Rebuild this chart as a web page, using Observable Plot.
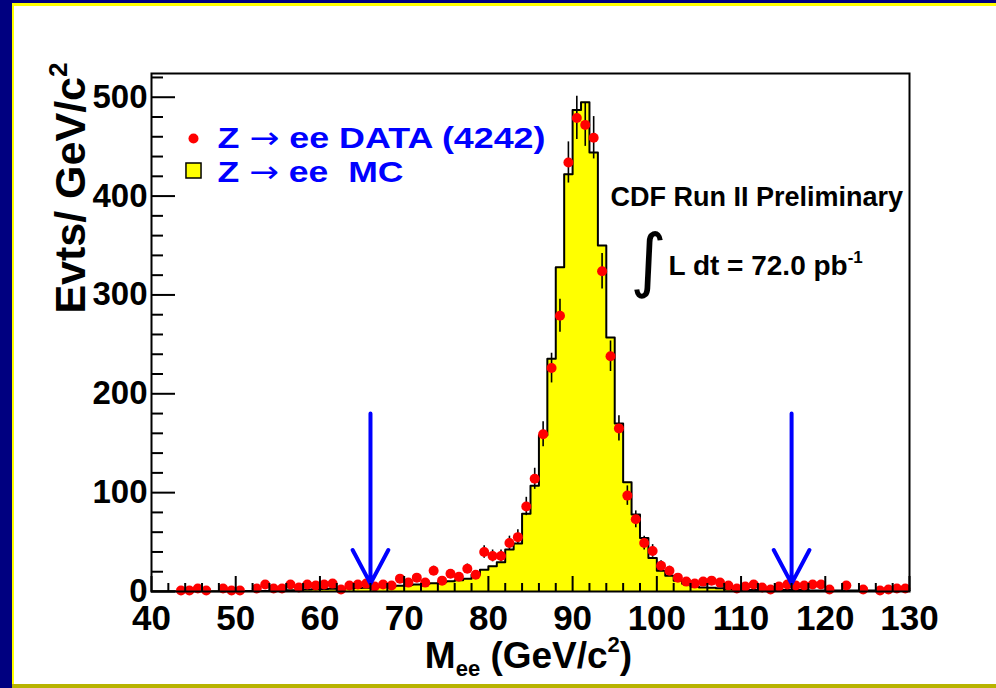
<!DOCTYPE html>
<html>
<head>
<meta charset="utf-8">
<script src="https://cdn.jsdelivr.net/npm/d3@7"></script>
<script src="https://cdn.jsdelivr.net/npm/@observablehq/plot@0.6"></script>
<style>
  html, body { margin: 0; padding: 0; background: #000080; }
  #wrap { position: relative; width: 996px; height: 688px; background: #000080; overflow: hidden; }
  #topline { position: absolute; left: 12px; top: 3px; width: 984px; height: 3px; background: #ffff00; }
  #leftline { position: absolute; left: 12px; top: 3px; width: 2px; height: 681px; background: #ffff00; }
  #panel { position: absolute; left: 14px; top: 6px; width: 982px; height: 678px; background: #ffffff; }
  #botline { position: absolute; left: 12px; top: 684px; width: 984px; height: 4px; background: #b8b400; }
  #chart { position: absolute; left: 0; top: 0; }
</style>
</head>
<body>
<div id="wrap">
  <div id="topline"></div>
  <div id="leftline"></div>
  <div id="panel"></div>
  <div id="botline"></div>
  <div id="chart"></div>
</div>
<script>
// ---- data ----
const binStart = 40;   // lower edge of first MC bin, GeV/c^2
const binWidth = 1;    // GeV/c^2
// Z -> ee MC histogram, bins 40..129
const mcCounts = [
  0.3, 0.3, 0.3, 0.3, 0.3, 0.3, 0.3, 0.3, 0.3, 0.3,      // 40-49
  0.6, 0.6, 0.6, 0.6, 1.2, 1.2, 1.2, 1.2, 2.0, 2.2,      // 50-59
  2.5, 2.7, 3.0, 3.2, 3.5, 3.9, 4.3, 4.7, 5.2, 5.8,      // 60-69
  6.5, 7.0, 7.6, 8.4, 9.3, 10.3, 11.5, 13, 17, 22,       // 70-79
  25.6, 29.7, 42.5, 48.6, 78.6, 107, 158, 235.5, 328, 422, // 80-89
  487, 495, 444, 350, 257, 170, 110.6, 78, 54, 34,       // 90-99
  21, 16, 11, 7.8, 5, 4, 3.7, 3.3, 2, 1.8,               // 100-109
  1.6, 1.6, 1.6, 1.6, 1.6, 1.6, 1.6, 1.6, 1, 1,          // 110-119
  1, 1, 1, 1, 1, 1, 1, 1, 1, 1                           // 120-129
];
// Z -> ee DATA, bins 43..129 (0 = empty bin)
const dataStart = 43;
const dataCounts = [
  1, 1, 3, 1, 0, 3, 1,                     // 43-49
  1, 0, 3, 7, 3, 3, 7, 4, 7, 6,            // 50-59
  7, 8, 2, 6, 7, 8, 5, 7, 6, 13,           // 60-69
  9, 14, 9, 21, 11, 18, 15, 23, 17, 40,    // 70-79
  36, 36, 49, 55, 86, 114, 159, 226, 279, 434, // 80-89
  479, 472, 459, 324, 238, 165, 97, 73, 49, 41, // 90-99
  26, 21, 14, 10, 8, 10, 11, 9, 6, 3,      // 100-109
  5, 7, 4, 2, 5, 7, 6, 6, 7, 7,            // 110-119
  2, 0, 6, 0, 2, 0, 1, 2, 3, 3             // 120-129
];
const cutValues = [66, 116];   // mass window arrows
const arrowTop = 180;
const arrowTip = 8;
const xMajorTicks = [40, 50, 60, 70, 80, 90, 100, 110, 120, 130];
const xMinorTicks = d3.range(40, 131, 2).filter(d => d % 10 !== 0);
const yMajorTicks = [0, 100, 200, 300, 400, 500];
const yMinorTicks = d3.range(0, 521, 20).filter(d => d % 100 !== 0);
const legendLabels = ["Z \u2192 ee DATA (4242)", "Z \u2192 ee\u00a0\u00a0MC"];
const yTitle = "Evts/ GeV/c2";
const xTitle = "Mee (GeV/c2)";
const noteTitle = "CDF Run II Preliminary";
const noteLumi = "L dt = 72.0 pb-1";

// ---- tables built from the arrays ----
const mcRows = mcCounts.map((v, i) => ({x: binStart + i * binWidth, v}));
mcRows.push({x: binStart + mcCounts.length * binWidth, v: mcCounts[mcCounts.length - 1]});
const dataRows = dataCounts
  .map((v, i) => ({x: dataStart + (i + 0.5) * binWidth, v}))
  .filter(d => d.v > 0);
const arrows = cutValues.map(x => ({x, top: arrowTop, tip: arrowTip}));

const bold = "'Liberation Sans', Arial, sans-serif";

const chart = Plot.plot({
  width: 996,
  height: 688,
  marginLeft: 151,
  marginRight: 87,
  marginTop: 73,
  marginBottom: 97,
  style: {background: "transparent", fontFamily: bold, fontWeight: "bold", color: "black", overflow: "visible"},
  x: {domain: [40, 130]},
  y: {domain: [0, 524]},
  marks: [
    Plot.areaY(mcRows, {x: "x", y: "v", curve: "step-after", fill: "#ffff00"}),
    Plot.lineY(mcRows, {x: "x", y: "v", curve: "step-after", stroke: "black", strokeWidth: 2}),
    Plot.ruleX(dataRows, {x: "x", y1: d => d.v - Math.sqrt(d.v), y2: d => d.v + Math.sqrt(d.v), stroke: "black", strokeWidth: 1.6}),
    Plot.link(dataRows, {x1: d => d.x - binWidth / 2, x2: d => d.x + binWidth / 2, y1: "v", y2: "v", stroke: "black", strokeWidth: 1.2}),
    Plot.dot(dataRows, {x: "x", y: "v", r: 5, fill: "#ff0000"}),
    Plot.arrow(arrows, {x: "x", y1: "top", y2: "tip", stroke: "#0000ff", strokeWidth: 4, headAngle: 56, headLength: 14.25}),
    Plot.frame({stroke: "black", strokeWidth: 2}),
    Plot.axisX(xMajorTicks, {tickSize: -15, tickPadding: 29, label: null, fontSize: 35, strokeWidth: 2}),
    Plot.axisX(xMinorTicks, {tickSize: -8, tickFormat: () => "", label: null, strokeWidth: 2}),
    Plot.axisY(yMajorTicks, {tickSize: -24, tickPadding: 28, label: null, fontSize: 33, strokeWidth: 2}),
    Plot.axisY(yMinorTicks, {tickSize: -12, tickFormat: () => "", label: null, strokeWidth: 2}),
    // axis titles
    Plot.text([yTitle], {frameAnchor: "top-left", dx: -80, dy: -11, rotate: -90, textAnchor: "end", lineAnchor: "middle", fontSize: 43, fontWeight: "bold", fontFamily: bold}),
    Plot.text([xTitle], {frameAnchor: "bottom", dx: -2, dy: 76, textAnchor: "middle", lineAnchor: "bottom", fontSize: 37, fontWeight: "bold", fontFamily: bold}),
    // legend
    Plot.dot([0], {frameAnchor: "top-left", dx: 42, dy: 65, r: 5, fill: "#ff0000"}),
    Plot.dot([0], {frameAnchor: "top-left", dx: 42, dy: 97, r: 8.5, symbol: "square", fill: "#ffff00", stroke: "black", strokeWidth: 1.5}),
    Plot.text([legendLabels[0]], {frameAnchor: "top-left", dx: 66, dy: 65, textAnchor: "start", lineAnchor: "middle", fontSize: 30, fontWeight: "bold", fill: "#0000ff", fontFamily: bold}),
    Plot.text([legendLabels[1]], {frameAnchor: "top-left", dx: 66, dy: 99, textAnchor: "start", lineAnchor: "middle", fontSize: 30, fontWeight: "bold", fill: "#0000ff", fontFamily: bold}),
    // annotations
    Plot.text([noteTitle], {frameAnchor: "top-left", dx: 459, dy: 124, textAnchor: "start", lineAnchor: "middle", fontSize: 27, fontWeight: "bold", fontFamily: bold}),
    Plot.text(["\u222B"], {frameAnchor: "top-left", dx: 497, dy: 188, textAnchor: "middle", lineAnchor: "middle", fontSize: 70, fontWeight: "normal", fontFamily: "'DejaVu Sans', sans-serif"}),
    Plot.text([noteLumi], {frameAnchor: "top-left", dx: 517, dy: 193, textAnchor: "start", lineAnchor: "middle", fontSize: 28, fontWeight: "bold", fontFamily: bold})
  ]
});

document.getElementById("chart").appendChild(chart);

// rich text: sub/superscripts and font changes as tspans
function rich(match, parts, small, up, down) {
  d3.select(chart).selectAll("text").filter(function() { return this.textContent === match; })
    .each(function() {
      const el = d3.select(this);
      el.text(null);
      let shift = 0;
      for (const [s, kind] of parts) {
        const target = kind === "sup" ? -up : kind === "sub" ? down : 0;
        const ts = el.append("tspan").text(s).attr("dy", target - shift);
        if (kind === "sup" || kind === "sub") ts.attr("font-size", small);
        if (kind === "sym") ts.attr("font-family", "'DejaVu Sans', sans-serif").attr("font-weight", "normal");
        shift = target;
      }
    });
}
rich(yTitle, [["Evts/ GeV/c"], ["2", "sup"]], 26, 18, 0);
rich(xTitle, [["M"], ["ee", "sub"], [" (GeV/c"], ["2", "sup"], [")"]], 22, 16, 8);
rich(noteLumi, [["L dt = 72.0 pb"], ["-1", "sup"]], 17, 12, 0);

// legend text is drawn wide in the original, with a long thin arrow
const legendNodes = legendLabels.map(lbl =>
  d3.select(chart).selectAll("text").filter(function() { return this.textContent === lbl; }));
rich(legendLabels[0], [["Z "], ["\u2192", "sym"], [" ee DATA (4242)"]], 0, 0, 0);
rich(legendLabels[1], [["Z "], ["\u2192", "sym"], [" ee\u00a0\u00a0MC"]], 0, 0, 0);
legendNodes[0].attr("textLength", 328).attr("lengthAdjust", "spacingAndGlyphs");
legendNodes[1].attr("textLength", 186).attr("lengthAdjust", "spacingAndGlyphs");
</script>
</body>
</html>
